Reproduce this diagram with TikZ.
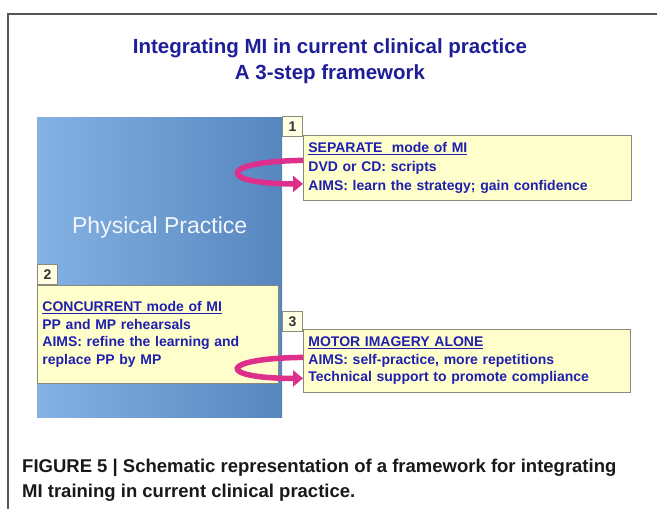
\documentclass[tikz,border=0pt]{standalone}
\usepackage{fontspec}
\setmainfont{Liberation Sans}
\newfontfamily\capfont{Liberation Sans}
\usetikzlibrary{arrows.meta,positioning,calc}

\definecolor{headblue}{HTML}{1E1E98}
\definecolor{noteblue}{HTML}{1F1FB0}
\definecolor{notefill}{HTML}{FFFFCC}
\definecolor{tagfill}{HTML}{FFFFE4}
\definecolor{noteline}{HTML}{8A8A7C}
\definecolor{twistpink}{HTML}{DE2F8D}
\definecolor{pplight}{HTML}{84B2E4}
\definecolor{ppdark}{HTML}{5686BE}
\definecolor{framegray}{HTML}{555555}

\begin{document}
\begin{tikzpicture}[x=1pt,y=-1pt,
    note/.style={rectangle,draw=noteline,fill=notefill,line width=0.8pt,anchor=north west,align=left,inner xsep=5pt,inner ysep=0pt,font=\fontsize{14}{17.5}\selectfont\bfseries,text=noteblue},
    tag/.style={rectangle,draw=noteline,fill=tagfill,line width=0.8pt,minimum width=20pt,minimum height=20pt,inner sep=0pt,font=\fontsize{14}{14}\selectfont\bfseries,text=black!80},
    twist/.style={draw=twistpink,line width=5.5pt,-{Triangle[width=16pt,length=10pt]}}
]
\useasboundingbox (0,0) rectangle (657,509);

% === Frame ===
\draw[framegray,line width=1.3pt] (8,509) -- (8,14) -- (657,14);

% === Title ===
\node[font=\fontsize{20.5}{26}\selectfont\bfseries,text=headblue,align=center] (head) at (330,61) {Integrating MI in current clinical practice\\A 3-step framework};

% === Physical practice block ===
\node[rectangle,anchor=north west,minimum width=245pt,minimum height=300pt,inner sep=0pt,left color=pplight,right color=ppdark] (pp) at (37,117) {};
\node[font=\fontsize{23}{23}\selectfont,text=white!90!pplight] (pplabel) at ([yshift=40pt]pp.center) {Physical Practice};

% === Step 1 ===
\node[note,minimum width=328pt,minimum height=65pt,text width=318pt,font=\fontsize{14}{19}\selectfont\bfseries] (sep) at (303,135) {\underline{SEPARATE\ \ mode of MI}\\DVD or CD: scripts\\AIMS: learn the strategy; gain confidence};
\node[tag,anchor=south east] (t1) at ([yshift=-2pt]sep.north west) {1};

% === Step 2 ===
\node[note,minimum width=241pt,minimum height=98pt,text width=231pt] (conc) at (37,285) {\underline{CONCURRENT mode of MI}\\PP and MP rehearsals\\AIMS: refine the learning and\\replace PP by MP};
\node[tag,anchor=south west] (t2) at (conc.north west) {2};

% === Step 3 ===
\node[note,minimum width=327pt,minimum height=63pt,text width=317pt] (alone) at (303,329) {\underline{MOTOR IMAGERY ALONE}\\AIMS: self-practice, more repetitions\\Technical support to promote compliance};
\node[tag,anchor=south east] (t3) at ([yshift=-3pt]alone.north west) {3};

% === Curled arrows ===
\draw[twist] ([yshift=7.5pt]sep.west) .. controls +(-86,1) and +(-86,0) .. ([yshift=-16pt]sep.west);
\draw[twist] ([yshift=3.5pt]alone.west) .. controls +(-86,1) and +(-86,0) .. ([yshift=-17.5pt]alone.west);

% === Caption ===
\node[anchor=north west,align=left,inner sep=0pt,font=\capfont\fontsize{18.5}{25}\selectfont\bfseries,text=black!90] (caption) at (22,459) {FIGURE 5 | Schematic representation of a framework for integrating\\MI training in current clinical practice.};

\end{tikzpicture}
\end{document}
